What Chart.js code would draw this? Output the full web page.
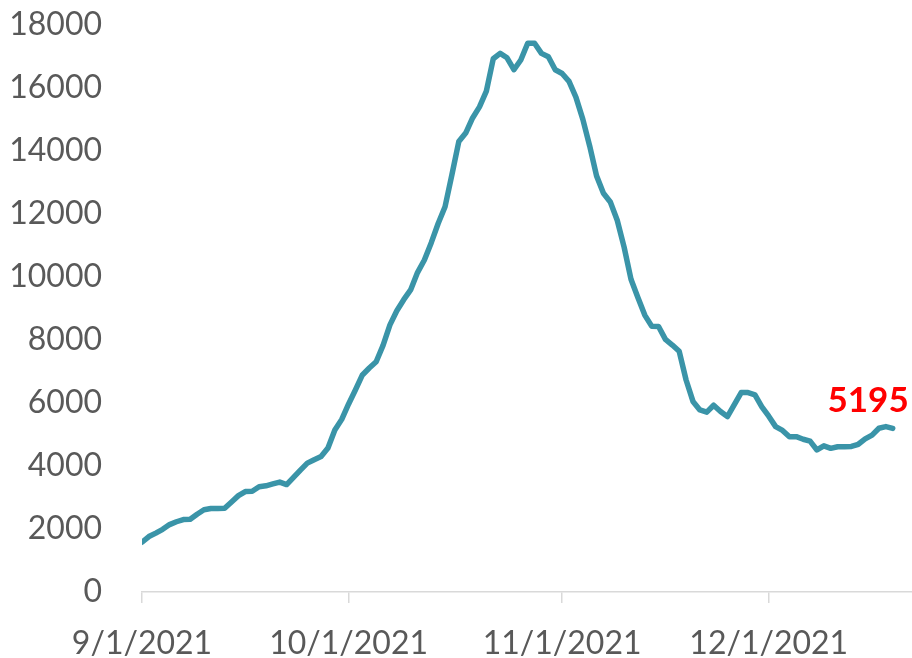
<!DOCTYPE html>
<html>
<head>
<meta charset="utf-8">
<script src="https://cdn.jsdelivr.net/npm/chart.js@4.4.0/dist/chart.umd.min.js"></script>
<style>
    html, body { margin: 0; padding: 0; background: #fff; }
    #wrap { width: 912px; height: 658px; position: relative; }
</style>
</head>
<body>
<div id="wrap"><canvas id="chart"></canvas></div>
<script>
// daily values starting 9/1/2021 (index 0) through 12/19/2021
const dailyValues = [
    1580, 1760, 1870, 1990, 2140, 2230, 2300, 2310, 2470, 2610,
    2650, 2650, 2660, 2860, 3060, 3190, 3200, 3340, 3370, 3430,
    3490, 3410, 3640, 3870, 4090, 4200, 4300, 4570, 5140, 5480,
    5970, 6420, 6890, 7110, 7310, 7830, 8480, 8930, 9280, 9590,
    10140, 10540, 11090, 11700, 12230, 13250, 14300, 14570, 15050, 15400,
    15900, 16930, 17100, 16960, 16580, 16890, 17420, 17420, 17100, 16990,
    16580, 16460, 16210, 15710, 15010, 14160, 13210, 12660, 12380, 11800,
    10950, 9930, 9350, 8790, 8440, 8430, 8020, 7840, 7640, 6730,
    6050, 5780, 5710, 5930, 5730, 5570, 5950, 6330, 6330, 6260,
    5880, 5580, 5250, 5130, 4930, 4930, 4850, 4790, 4510, 4640,
    4560, 4610, 4610, 4620, 4690, 4860, 4980, 5200, 5250, 5195
];

const tickDays = [0, 30, 61, 91];
const tickLabels = ['9/1/2021', '10/1/2021', '11/1/2021', '12/1/2021'];
const yTicks = [0, 2000, 4000, 6000, 8000, 10000, 12000, 14000, 16000, 18000];

const LINE_COLOR = '#3A94A8';
const AXIS_COLOR = '#D9D9D9';
const TEXT_COLOR = '#595959';
const FONT = "Lato, 'Open Sans', sans-serif";

const lastLabel = {
    id: 'lastLabel',
    afterDatasetsDraw(chart) {
        const meta = chart.getDatasetMeta(0);
        const pt = meta.data[meta.data.length - 1];
        if (!pt) return;
        const ctx = chart.ctx;
        ctx.save();
        ctx.font = `bold 35px ${FONT}`;
        ctx.fillStyle = '#FF0000';
        ctx.textAlign = 'right';
        ctx.textBaseline = 'alphabetic';
        ctx.fillText(String(dailyValues[dailyValues.length - 1]), pt.x + 16, pt.y - 16);
        ctx.restore();
    }
};

const ctx = document.getElementById('chart').getContext('2d');
new Chart(ctx, {
    type: 'line',
    data: {
        datasets: [{
            data: dailyValues.map((v, i) => ({ x: i, y: v })),
            borderColor: LINE_COLOR,
            backgroundColor: 'transparent',
            borderWidth: 5.5,
            pointRadius: 0,
            tension: 0,
            borderJoinStyle: 'round',
            borderCapStyle: 'round'
        }]
    },
    options: {
        responsive: true,
        maintainAspectRatio: false,
        animation: false,
        layout: { padding: { top: 25, right: 0, left: 0, bottom: 0 } },
        plugins: {
            legend: { display: false },
            tooltip: { enabled: false }
        },
        scales: {
            x: {
                type: 'linear',
                min: 0,
                max: 111.8,
                afterBuildTicks: (scale) => {
                    scale.ticks = tickDays.map(v => ({ value: v }));
                },
                afterFit: (scale) => {
                    scale.height = 66;
                    scale.paddingLeft = 0;
                    scale.paddingRight = 0;
                },
                grid: {
                    drawOnChartArea: false,
                    drawTicks: true,
                    tickLength: 11,
                    color: AXIS_COLOR,
                    lineWidth: 1.5
                },
                border: { display: true, color: AXIS_COLOR, width: 1.5 },
                ticks: {
                    autoSkip: false,
                    maxRotation: 0,
                    padding: 21,
                    color: TEXT_COLOR,
                    font: { family: FONT, size: 32 },
                    callback: (value) => {
                        const i = tickDays.indexOf(value);
                        return i >= 0 ? tickLabels[i] : '';
                    }
                }
            },
            y: {
                min: 0,
                max: 18000,
                afterBuildTicks: (scale) => {
                    scale.ticks = yTicks.map(v => ({ value: v }));
                },
                afterFit: (scale) => {
                    scale.width = 142;
                    scale.paddingTop = 0;
                    scale.paddingBottom = 0;
                },
                grid: { display: false },
                border: { display: false },
                ticks: {
                    padding: 32,
                    color: TEXT_COLOR,
                    font: { family: FONT, size: 32 },
                    callback: (value) => String(value)
                }
            }
        }
    },
    plugins: [lastLabel]
});
</script>
</body>
</html>
